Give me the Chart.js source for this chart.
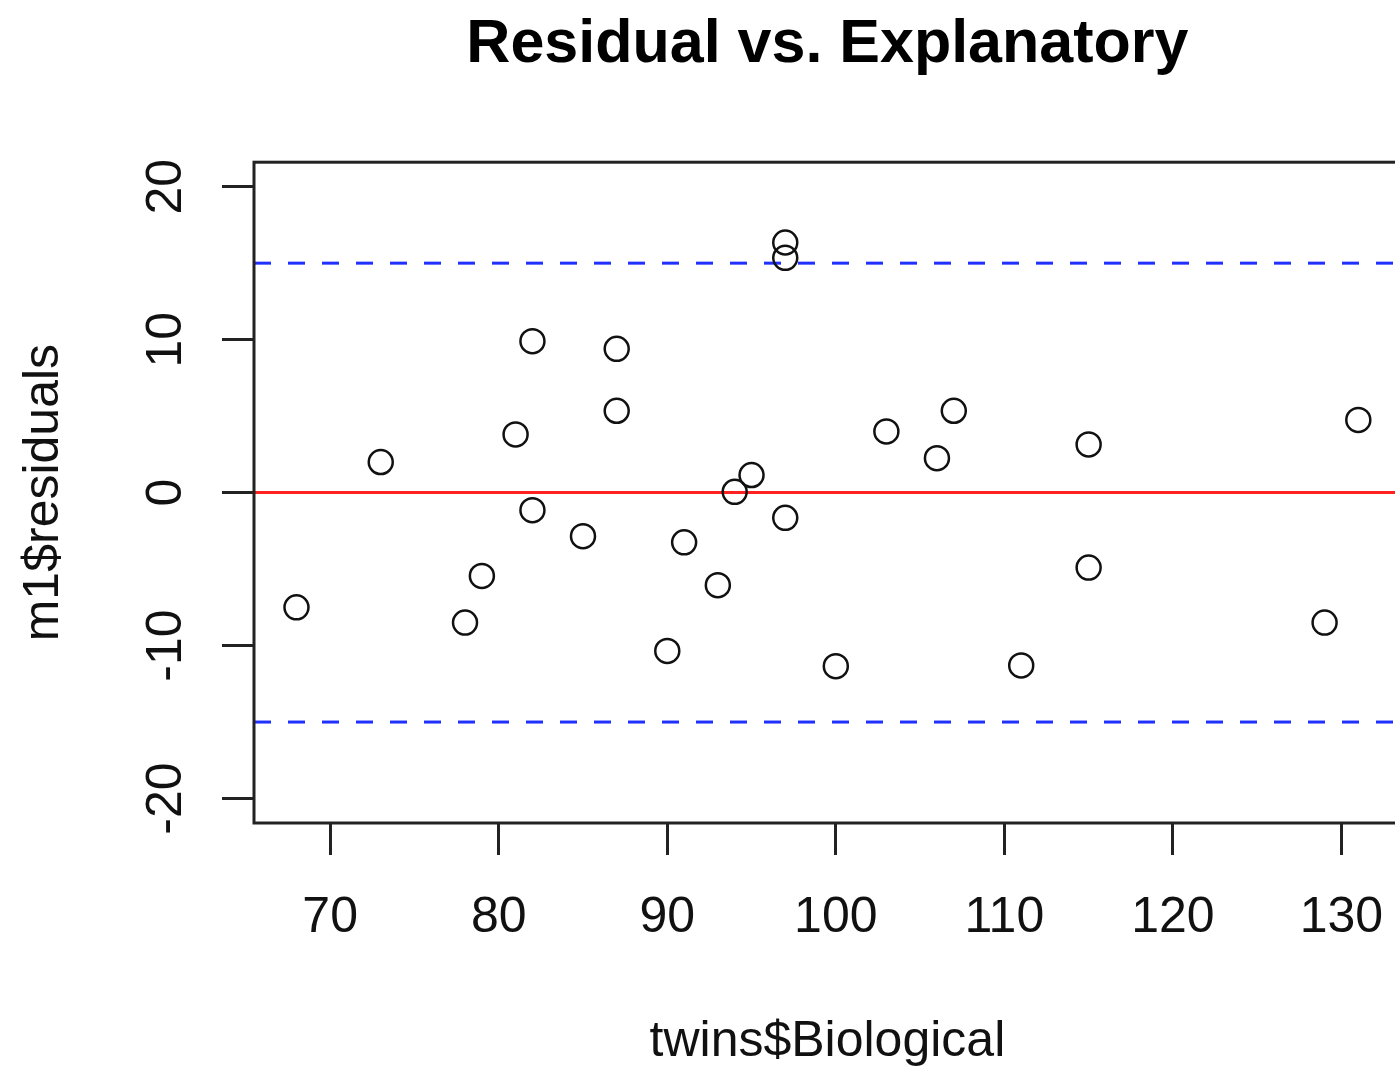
<!DOCTYPE html>
<html>
<head>
<meta charset="utf-8">
<script src="https://cdn.jsdelivr.net/npm/chart.js@4/dist/chart.umd.min.js"></script>
<style>
  html, body { margin: 0; padding: 0; background: #fff; overflow: hidden; }
  #c { display: block; }
</style>
</head>
<body>
<canvas id="c" width="1417" height="1068" style="width:1417px;height:1068px"></canvas>
<script>
// ---- data ----
const biological = [68, 73, 78, 79, 81, 82, 82, 85, 87, 87, 90, 91, 93, 94, 95, 97, 97, 97, 100, 103, 106, 107, 111, 115, 115, 129, 131];
const residuals  = [-7.5, 2.0, -8.5, -5.45, 3.8, 9.9, -1.15, -2.85, 9.4, 5.35, -10.35, -3.25, -6.05, 0.05, 1.15, 16.35, 15.35, -1.65, -11.35, 4.0, 2.25, 5.35, -11.3, 3.15, -4.9, -8.5, 4.75];
const xTicks = [70, 80, 90, 100, 110, 120, 130];
const yTicks = [-20, -10, 0, 10, 20];
const xLimits = [65.48, 133.52];
const yLimits = [-21.6, 21.6];
const zeroLine = [0, 0];
const upperBand = [15, 15];
const lowerBand = [-15, -15];
const titleText = 'Residual vs. Explanatory';
const xLabel = 'twins$Biological';
const yLabel = 'm1$residuals';

const FONT = '"Liberation Sans", Arial, Helvetica, sans-serif';

const points = biological.map((x, i) => ({ x, y: residuals[i] }));
const hline = vals => xLimits.map((x, i) => ({ x, y: vals[i] }));

const boxPlugin = {
  id: 'box',
  afterDatasetsDraw(chart) {
    const { ctx, chartArea: a } = chart;
    ctx.save();
    ctx.strokeStyle = '#222';
    ctx.lineWidth = 3;
    ctx.strokeRect(a.left, a.top, a.right - a.left, a.bottom - a.top);
    ctx.restore();
  }
};

new Chart(document.getElementById('c'), {
  type: 'scatter',
  data: {
    datasets: [
      { type: 'line', data: hline(zeroLine), borderColor: '#ff2020', borderWidth: 3, pointRadius: 0, fill: false, order: 3 },
      { type: 'line', data: hline(upperBand), borderColor: '#2030ff', borderWidth: 3, borderDash: [17, 17], pointRadius: 0, fill: false, order: 2 },
      { type: 'line', data: hline(lowerBand), borderColor: '#2030ff', borderWidth: 3, borderDash: [17, 17], pointRadius: 0, fill: false, order: 2 },
      { data: points, pointStyle: 'circle', pointRadius: 12, pointHoverRadius: 12, pointBorderWidth: 2.5, pointBackgroundColor: 'rgba(0,0,0,0)', pointBorderColor: '#111', order: 1 }
    ]
  },
  options: {
    responsive: false,
    maintainAspectRatio: false,
    animation: false,
    devicePixelRatio: 1,
    layout: { padding: { left: 0, right: 10, top: 0, bottom: 0 } },
    plugins: {
      legend: { display: false },
      tooltip: { enabled: false },
      title: {
        display: true,
        text: titleText,
        fullSize: false,
        align: 'center',
        color: '#000',
        font: { family: FONT, size: 61, weight: 'bold', lineHeight: 1.2 },
        padding: { top: 9, bottom: 80 }
      }
    },
    scales: {
      x: {
        type: 'linear',
        min: xLimits[0],
        max: xLimits[1],
        afterBuildTicks: s => { s.ticks = xTicks.map(v => ({ value: v })); },
        afterFit: s => { s.height = 245; },
        grid: { drawOnChartArea: false, drawTicks: true, tickLength: 32, lineWidth: 3, color: '#222' },
        border: { display: false },
        ticks: { autoSkip: false, maxRotation: 0, minRotation: 0, padding: 33, color: '#111', font: { family: FONT, size: 50 } },
        title: { display: true, text: xLabel, color: '#111', font: { family: FONT, size: 50, lineHeight: 1 }, padding: { top: 0, bottom: 1 } }
      },
      y: {
        type: 'linear',
        min: yLimits[0],
        max: yLimits[1],
        afterBuildTicks: s => { s.ticks = yTicks.map(v => ({ value: v })); },
        afterFit: s => { s.width = 254; },
        grid: { drawOnChartArea: false, drawTicks: true, tickLength: 32, lineWidth: 3, color: '#222' },
        border: { display: false },
        ticks: { autoSkip: false, minRotation: 90, maxRotation: 90, crossAlign: 'center', padding: 19, color: '#111', font: { family: FONT, size: 50 } },
        title: { display: true, text: yLabel, color: '#111', font: { family: FONT, size: 50, lineHeight: 1 }, padding: { top: 19, bottom: 0 } }
      }
    }
  },
  plugins: [boxPlugin]
});
</script>
</body>
</html>
